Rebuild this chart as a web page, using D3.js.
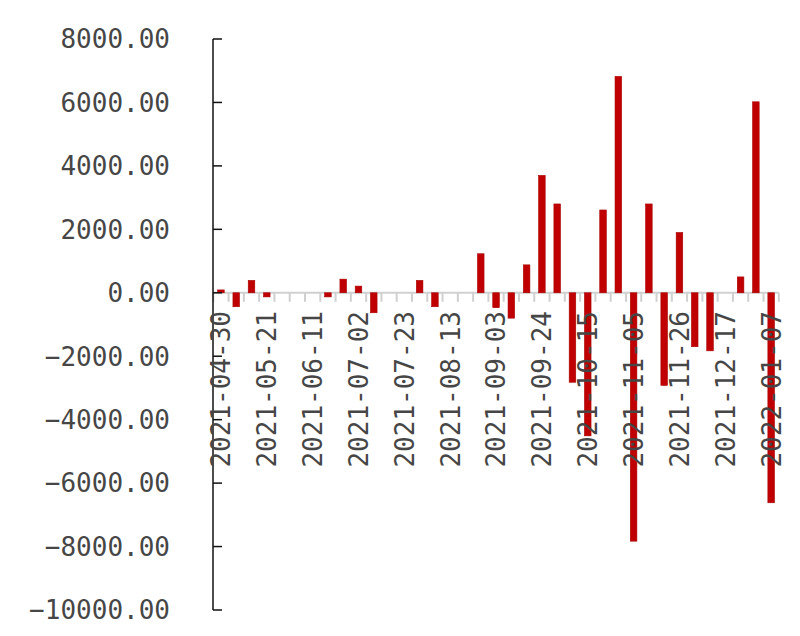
<!DOCTYPE html>
<html><head><meta charset="utf-8">
<script src="https://cdn.jsdelivr.net/npm/d3@7"></script>
<style>body{margin:0;background:#fff}svg{display:block}</style>
</head><body>
<script>
const dates = ["2021-04-30","2021-05-07","2021-05-14","2021-05-21","2021-05-28","2021-06-04","2021-06-11","2021-06-18","2021-06-25","2021-07-02","2021-07-09","2021-07-16","2021-07-23","2021-07-30","2021-08-06","2021-08-13","2021-08-20","2021-08-27","2021-09-03","2021-09-10","2021-09-17","2021-09-24","2021-10-01","2021-10-08","2021-10-15","2021-10-22","2021-10-29","2021-11-05","2021-11-12","2021-11-19","2021-11-26","2021-12-03","2021-12-10","2021-12-17","2021-12-24","2021-12-31","2022-01-07"];
const values = [90,-440,390,-130,0,0,0,-130,430,210,-630,0,0,390,-440,0,0,1230,-470,-800,880,3700,2800,-2820,-4510,2610,6820,-7830,2800,-2920,1900,-1700,-1830,0,500,6020,-6620];
const labelDates = ["2021-04-30","2021-05-21","2021-06-11","2021-07-02","2021-07-23","2021-08-13","2021-09-03","2021-09-24","2021-10-15","2021-11-05","2021-11-26","2021-12-17","2022-01-07"];
const yTicks = [8000,6000,4000,2000,0,-2000,-4000,-6000,-8000,-10000];

const W=800,H=636;
const svg=d3.select("body").append("svg").attr("width",W).attr("height",H);
const x=d3.scaleBand().domain(dates).range([213.3,778.8]).paddingInner(0.57).paddingOuter(0.285);
const y=d3.scaleLinear().domain([-10000,8000]).range([610,39]);
const font="'DejaVu Sans Mono', monospace";
const step=x.step();

// x axis line + ticks
const xa=svg.append("g");
xa.append("line").attr("x1",213).attr("x2",x(dates[dates.length-1])+x.bandwidth()+step*0.285)
  .attr("y1",y(0)).attr("y2",y(0)).attr("stroke","#d0d0d0").attr("stroke-width",2);
const bounds=dates.map(d=>x(d)+x.bandwidth()/2-step/2).concat([x(dates[dates.length-1])+x.bandwidth()/2+step/2]);
xa.selectAll("line.t").data(bounds).join("line").attr("class","t")
  .attr("x1",d=>d).attr("x2",d=>d).attr("y1",y(0)).attr("y2",y(0)+9)
  .attr("stroke","#d0d0d0").attr("stroke-width",2);

// bars
svg.append("g").selectAll("rect").data(dates.map((d,i)=>({d,v:values[i]}))).join("rect")
  .attr("x",d=>x(d.d)).attr("width",x.bandwidth())
  .attr("y",d=>y(Math.max(0,d.v))).attr("height",d=>Math.abs(y(d.v)-y(0)))
  .attr("fill","#c00000").attr("stroke","#a80000").attr("stroke-width",0.6);

// y axis
const ya=svg.append("g");
ya.append("line").attr("x1",213).attr("x2",213).attr("y1",y(8000)).attr("y2",y(-10000))
  .attr("stroke","#111").attr("stroke-width",1.5);
ya.selectAll("line.t").data(yTicks).join("line").attr("class","t")
  .attr("x1",213).attr("x2",222).attr("y1",d=>y(d)).attr("y2",d=>y(d))
  .attr("stroke","#111").attr("stroke-width",1.5);
ya.selectAll("text").data(yTicks).join("text")
  .attr("x",170).attr("y",d=>y(d)).attr("dy","0.36em").attr("text-anchor","end")
  .attr("font-family",font).attr("font-size",26).attr("fill","#464646")
  .text(d=>d3.format(".2f")(d));

// x labels
svg.append("g").selectAll("text").data(labelDates).join("text")
  .attr("transform",d=>`translate(${x(d)+x.bandwidth()/2},311) rotate(-90)`)
  .attr("dy","0.36em").attr("text-anchor","end")
  .attr("font-family",font).attr("font-size",26).attr("fill","#464646")
  .text(d=>d);
</script>
</body></html>
